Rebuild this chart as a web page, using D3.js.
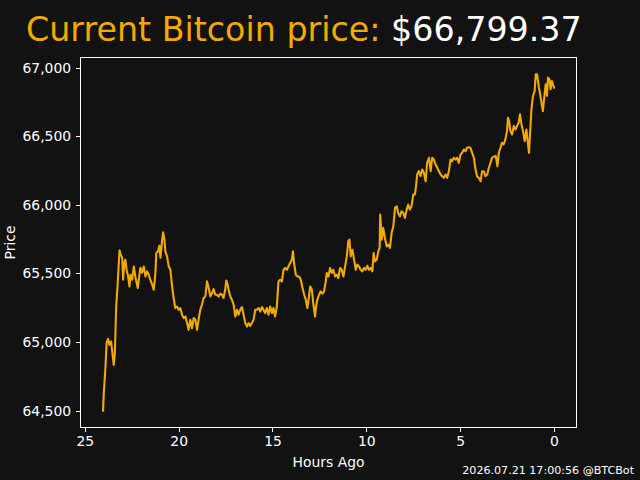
<!DOCTYPE html>
<html lang="en">
  <head>
    <meta charset="utf-8">
    <title>btc price</title>
    <style>
      body { margin: 0; background: #121212; }
      svg text { font-family: "DejaVu Sans", sans-serif; }
    </style>
  </head>
  <body>
    <script src="https://d3js.org/d3.v7.min.js"></script>
    <div id="chart"></div>
    <script>

    // data: hours ago and price (USD)
    var hoursAgo = [
      24.03,23.99,23.90,23.84,23.76,23.69,23.60,23.54,23.46,23.40,
      23.33,23.26,23.19,23.15,23.09,23.01,22.96,22.90,22.84,22.78,
      22.71,22.62,22.57,22.48,22.39,22.30,22.18,22.11,22.04,21.95,
      21.86,21.77,21.68,21.60,21.51,21.41,21.33,21.24,21.19,21.10,
      21.03,20.97,20.88,20.83,20.76,20.71,20.62,20.53,20.44,20.35,
      20.27,20.18,
      20.09,20.00,19.91,19.82,19.73,19.64,19.55,19.47,19.38,19.29,
      19.20,19.11,19.02,18.94,18.85,18.76,18.67,18.58,18.49,18.40,
      18.31,18.22,18.14,18.05,17.96,17.87,17.78,17.69,17.61,17.52,
      17.46,17.39,17.34,17.25,17.16,17.07,16.98,16.89,16.81,16.72,
      16.63,16.54,16.45,16.36,16.28,16.19,16.10,16.01,15.92,
      15.83,15.74,15.65,15.56,15.48,15.39,15.30,15.21,15.12,15.03,
      14.95,14.86,14.77,14.68,14.59,14.50,14.41,14.32,14.23,14.15,
      14.06,13.97,13.91,13.85,13.76,13.67,13.58,13.49,13.40,13.31,
      13.22,13.14,13.09,12.99,12.90,12.82,12.73,12.68,12.61,12.52,
      12.43,12.34,12.25,12.16,12.11,12.02,11.93,11.84,11.76,11.66,
      11.57,11.49,11.40,11.31,11.22,11.13,11.04,10.96,10.90,10.83,
      10.74,10.65,10.56,10.48,10.39,10.30,10.21,10.12,10.03,9.95,
      9.86,9.77,9.68,9.61,9.54,9.45,9.36,9.29,9.26,9.18,
      9.10,9.01,8.91,8.83,8.74,8.65,8.56,8.47,8.38,8.30,
      8.21,8.12,8.03,7.94,7.85,7.77,7.68,7.59,7.50,7.41,
      7.36,7.29,7.20,7.11,7.02,6.93,6.84,6.76,6.66,6.57,
      6.49,6.40,6.31,6.22,6.13,6.04,5.96,5.87,5.78,5.69,
      5.60,5.51,5.43,5.34,5.24,5.16,5.07,4.98,4.89,4.80,
      4.71,4.63,4.54,4.45,4.36,4.27,4.18,4.10,4.01,3.91,
      3.83,3.74,3.65,3.56,3.47,3.38,3.30,3.21,3.15,
      3.10,3.01,2.94,2.85,2.77,2.68,2.59,2.50,2.45,2.39,
      2.32,2.23,2.14,2.05,1.97,1.88,1.81,1.73,1.65,1.56,
      1.47,1.38,1.33,1.26,1.20,1.12,1.03,0.97,0.90,0.85,
      0.80,0.72,0.65,0.59,0.51,0.44,0.37,0.32,0.24,0.18,
      0.11,0.00
    ];
    var price = [
      64500,64627,64821,64994,65023,64980,65004,64931,64834,64921,
      65259,65405,65576,65668,65637,65613,65454,65576,65600,65527,
      65491,65405,65491,65454,65551,65469,65394,65469,65542,65505,
      65551,65478,65515,65491,65454,65418,65381,65503,65649,65661,
      65702,65615,65746,65800,65746,65661,65624,65551,65527,65405,
      65321,65248,
      65259,65235,65248,65199,65175,65186,65138,65089,65162,65101,
      65175,65162,65089,65162,65235,65272,65321,65332,65442,65394,
      65332,65357,65386,65345,65345,65332,65352,65345,65321,65381,
      65449,65418,65381,65332,65308,65272,65186,65235,65199,65235,
      65255,65199,65138,65113,65138,65118,65138,65162,65235,
      65235,65248,65223,65255,65235,65211,65248,65199,65259,65211,
      65248,65186,65259,65442,65454,65442,65527,65540,65527,65551,
      65576,65600,65661,65576,65491,65478,65478,65454,65394,65345,
      65308,65248,65296,65405,65381,65272,65186,65259,65308,65345,
      65369,65352,65369,65442,65503,65478,65540,65503,65527,65478,
      65491,65467,65540,65527,65478,65551,65624,65734,65746,65624,
      65673,65600,65527,65564,65551,65527,65515,65540,65527,65556,
      65527,65540,65515,65649,65588,65600,65661,65686,65929,65746,
      65832,65759,65697,65710,65686,65795,65843,65978,65989,65941,
      65916,65953,65941,65905,65965,66002,65965,65989,66075,66075,
      66124,66221,66245,66208,66257,66233,66172,66306,66343,66245,
      66343,66330,66294,66270,66245,66221,66208,66197,66221,66197,
      66245,66330,66318,66343,66330,66343,66306,66367,66379,66403,
      66391,66416,66420,66416,66379,66343,66257,66208,66197,66172,
      66245,66245,66208,66221,66270,66306,66343,66350,66355,
      66355,66281,66379,66416,66452,66440,66477,66537,66635,66610,
      66537,66513,66574,66549,66574,66598,66659,66586,66537,66464,
      66549,66440,66379,66549,66696,66793,66829,66951,66951,66902,
      66854,66793,66732,66683,66793,66878,66793,66927,66915,66842,
      66902,66854
    ];
    var xTicks = [25, 20, 15, 10, 5, 0];
    var yTicks = [64500, 65000, 65500, 66000, 66500, 67000];
    var currentPrice = "$66,799.37";
    var stamp = "2026.07.21 17:00:56 @BTCBot";

    var orange = "#f2a900", bg = "#121212";
    var W = 640, H = 480;
    var margin = {top: 57.5, right: 63.5, bottom: 52.5, left: 80.5};

    var svg = d3.select("#chart").append("svg")
      .attr("width", W).attr("height", H)
      .style("display", "block");
    svg.append("rect").attr("width", W).attr("height", H).attr("fill", bg);

    // matplotlib style 5% padding around the data
    var xExt = d3.extent(hoursAgo), yExt = d3.extent(price);
    var xPad = (xExt[1] - xExt[0]) * 0.05, yPad = (yExt[1] - yExt[0]) * 0.05;

    var x = d3.scaleLinear()
      .domain([xExt[1] + xPad, xExt[0] - xPad])
      .range([margin.left, W - margin.right]);
    var y = d3.scaleLinear()
      .domain([yExt[0] - yPad, yExt[1] + yPad])
      .range([H - margin.bottom, margin.top]);

    var data = hoursAgo.map(function(h, i){ return {h: h, p: price[i]}; });

    var line = d3.line()
      .x(function(d){ return x(d.h); })
      .y(function(d){ return y(d.p); });

    svg.append("path")
      .datum(data)
      .attr("d", line)
      .attr("fill", "none")
      .attr("stroke", orange)
      .attr("stroke-width", 2.1)
      .attr("stroke-linejoin", "round")
      .attr("stroke-linecap", "square");

    // axes
    var xAxis = svg.append("g")
      .attr("transform", "translate(0," + (H - margin.bottom) + ")")
      .call(d3.axisBottom(x).tickValues(xTicks).tickSize(4.9).tickPadding(4));
    var yAxis = svg.append("g")
      .attr("transform", "translate(" + margin.left + ",0)")
      .call(d3.axisLeft(y).tickValues(yTicks).tickFormat(d3.format(",")).tickSize(4.9).tickPadding(4.5));

    [xAxis, yAxis].forEach(function(g){
      g.select(".domain").remove();
      g.selectAll(".tick line").attr("stroke", "white").attr("stroke-width", 1)
        .attr("shape-rendering", "crispEdges");
      g.selectAll(".tick text")
        .attr("fill", "white")
        .attr("font-size", "13.9px")
        .attr("font-family", "DejaVu Sans");
    });

    // frame
    svg.append("rect")
      .attr("x", margin.left).attr("y", margin.top)
      .attr("width", W - margin.left - margin.right)
      .attr("height", H - margin.top - margin.bottom)
      .attr("fill", "none")
      .attr("stroke", "white")
      .attr("stroke-width", 1)
      .attr("shape-rendering", "crispEdges");

    // axis labels
    svg.append("text")
      .attr("x", (margin.left + W - margin.right) / 2)
      .attr("y", 467)
      .attr("text-anchor", "middle")
      .attr("font-size", "13.9px")
      .attr("fill", "white")
      .text("Hours Ago");

    svg.append("text")
      .attr("transform", "translate(15," + ((margin.top + H - margin.bottom) / 2) + ") rotate(-90)")
      .attr("text-anchor", "middle")
      .attr("font-size", "13.9px")
      .attr("fill", "white")
      .text("Price");

    // title in two colours
    var title = svg.append("text")
      .attr("x", 26)
      .attr("y", 41)
      .attr("font-size", "33.3px");
    title.append("tspan").attr("fill", orange).text("Current Bitcoin price: ");
    title.append("tspan").attr("fill", "white").text(currentPrice);

    // timestamp footer
    svg.append("text")
      .attr("x", 634)
      .attr("y", 474)
      .attr("text-anchor", "end")
      .attr("font-size", "11.1px")
      .attr("fill", "white")
      .text(stamp);

    </script>
  </body>
</html>
